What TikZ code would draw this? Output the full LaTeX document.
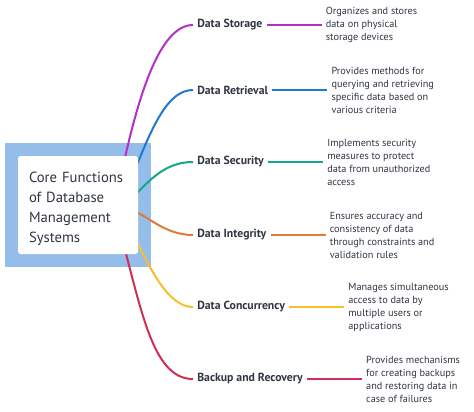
\documentclass[tikz,border=0pt]{standalone}
\usepackage{fontspec}
\setmainfont{PT Sans}
\usetikzlibrary{positioning,fit,backgrounds}
\definecolor{inkgrey}{HTML}{2F3542}
\definecolor{framebg}{HTML}{94BDEA}
\definecolor{storepurple}{HTML}{B42FC6}
\definecolor{fetchblue}{HTML}{1F78D1}
\definecolor{secteal}{HTML}{17A68A}
\definecolor{integorange}{HTML}{E07A3A}
\definecolor{concyellow}{HTML}{F5C02C}
\definecolor{backred}{HTML}{CF2E55}
\tikzset{
  root/.style={fill=white, rounded corners=2pt, align=left, text=inkgrey,
    font=\fontsize{11}{15}\selectfont, text width=73.5pt,
    minimum height=73.5pt, inner xsep=8.25pt, inner ysep=0pt},
  frame/.style={fill=framebg, inner sep=9.75pt},
  topic/.style={font=\fontsize{8.8}{10}\selectfont\bfseries, text=inkgrey,
    inner xsep=3pt, inner ysep=2pt, anchor=west},
  desc/.style={font=\fontsize{7.7}{9.75}\selectfont, text=inkgrey,
    align=left, inner xsep=3pt, inner ysep=0pt},
  branch/.style={line width=1.5pt, draw=#1},
}

\begin{document}
\begin{tikzpicture}[x=0.75pt, y=-0.75pt]
\useasboundingbox (0,0) rectangle (474,411);

% centre box
\node[root] (root) at (78,205)
  {\rule{0pt}{14pt}Core Functions\\of Database\\Management\\Systems};

% topics, one per branch
\node[topic] (storage)  at (193,25)  {Data Storage};
\node[topic] (retrieval) at (193,90)  {Data Retrieval};
\node[topic] (security) at (193,162) {Data Security};
\node[topic] (integrity) at (193,235) {Data Integrity};
\node[topic] (concur)   at (193,307) {Data Concurrency};
\node[topic] (backup)   at (193,379) {Backup and Recovery};

% descriptions, 55px to the right of each topic
\node[desc, right=41.25pt of storage] (storagetxt)
  {Organizes and stores\\data on physical\\storage devices};
\node[desc, right=41.25pt of retrieval] (retrievaltxt)
  {Provides methods for\\querying and retrieving\\specific data based on\\various criteria};
\node[desc, right=41.25pt of security] (securitytxt)
  {Implements security\\measures to protect\\data from unauthorized\\access};
\node[desc, right=41.25pt of integrity] (integritytxt)
  {Ensures accuracy and\\consistency of data\\through constraints and\\validation rules};
\node[desc, right=41.25pt of concur] (concurtxt)
  {Manages simultaneous\\access to data by\\multiple users or\\applications};
\node[desc, right=41.25pt of backup] (backuptxt)
  {Provides mechanisms\\for creating backups\\and restoring data in\\case of failures};

\draw[branch=storepurple] (storage) -- (storagetxt);
\draw[branch=fetchblue]   (retrieval) -- (retrievaltxt);
\draw[branch=secteal]     (security) -- (securitytxt);
\draw[branch=integorange] (integrity) -- (integritytxt);
\draw[branch=concyellow]  (concur) -- (concurtxt);
\draw[branch=backred]     (backup) -- (backuptxt);

% curves start behind the white box
\coordinate (o1) at (124,162);
\coordinate (o2) at (134,172);
\coordinate (o3) at (132,198);
\coordinate (o4) at (132,210);
\coordinate (o5) at (134,236);
\coordinate (o6) at (124,246);

\begin{scope}[on background layer]
  \node[frame, fit=(root)] (rootframe) {};
  \draw[branch=storepurple] (o1) .. controls (139,95) and (160,25) .. (storage.west);
  \draw[branch=fetchblue]   (o2) .. controls (153,125) and (168,90) .. (retrieval.west);
  \draw[branch=secteal]     (o3) .. controls (150,180) and (165,162) .. (security.west);
  \draw[branch=integorange] (o4) .. controls (148,216) and (165,235) .. (integrity.west);
  \draw[branch=concyellow]  (o5) .. controls (150,268) and (168,307) .. (concur.west);
  \draw[branch=backred]     (o6) .. controls (143,318) and (155,379) .. (backup.west);
\end{scope}

\end{tikzpicture}
\end{document}
